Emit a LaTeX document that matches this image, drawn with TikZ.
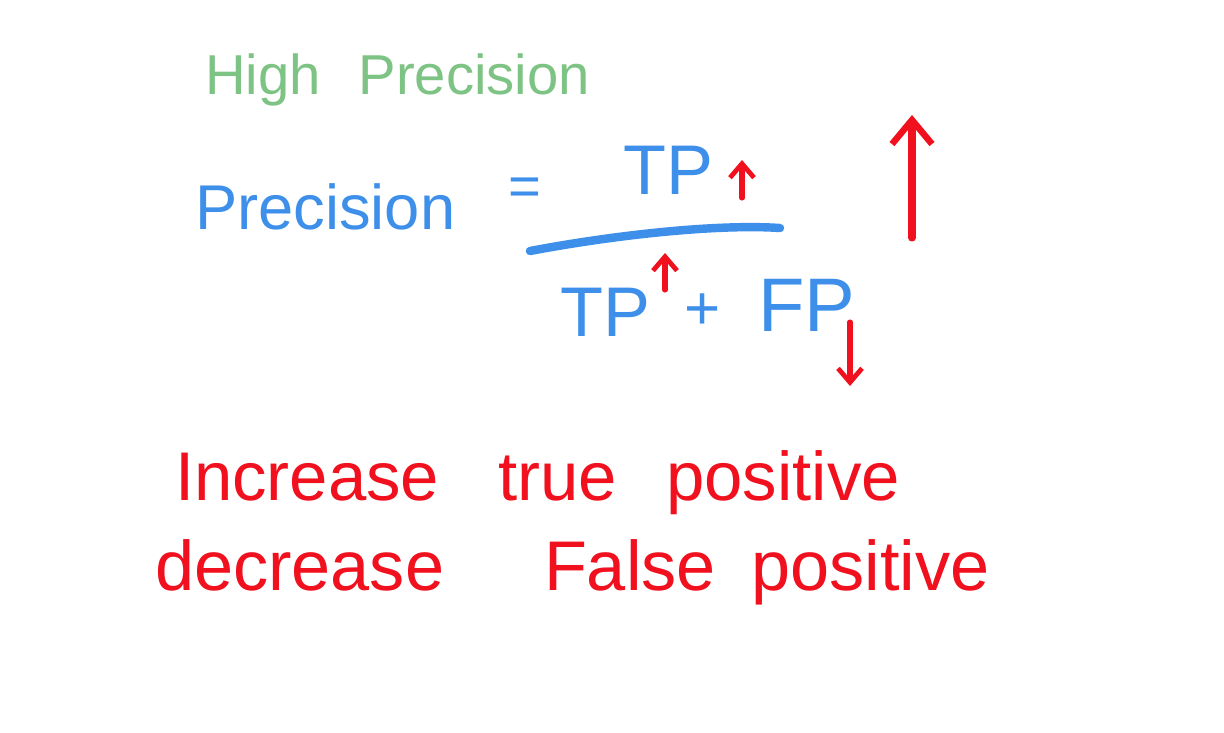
\documentclass[tikz,border=0pt]{standalone}
\usepackage{fontspec}
\setmainfont{Liberation Sans}
\usetikzlibrary{arrows.meta,positioning}
\definecolor{leaf}{HTML}{7DC383}
\definecolor{ink}{HTML}{3D8FEA}
\definecolor{pen}{HTML}{F0101E}

\tikzset{
  hand/.style={inner sep=0pt,outer sep=0pt},
  upmark/.style={pen,line width=3.6pt,line cap=round,-{Straight Barb[length=3.5mm,width=6mm,line width=3.4pt]}},
  bigmark/.style={pen,line width=5pt,line cap=round,-{Straight Barb[length=6mm,width=10mm,line width=4.6pt]}}
}

\begin{document}
\begin{tikzpicture}[x=0.025cm,y=-0.025cm]
\useasboundingbox (0,0) rectangle (1224,732);
\fill[white] (0,0) rectangle (1224,732);
% heading
\node[hand,text=leaf,anchor=west,font=\fontsize{40}{48}\selectfont] (title) at (205,80) {High\hspace{27pt}Precision};
% the formula
\node[hand,text=ink,anchor=west,font=\fontsize{45}{52}\selectfont] (lhs) at (195,207) {Precision};
\node[hand,text=ink,font=\fontsize{40}{48}\selectfont] (eq) at (525,192) {=};
\node[hand,text=ink,font=\fontsize{50}{60}\selectfont] (num) at (668,170) {TP};
\node[hand,text=ink,font=\fontsize{50}{60}\selectfont] (dtp) at (605,312) {TP};
\node[hand,text=ink,font=\fontsize{44}{52}\selectfont] (plus) at (703,312) {+};
\node[hand,text=ink,font=\fontsize{54}{60}\selectfont] (dfp) at (807,305) {FP};
\draw[ink,line width=6pt,line cap=round] (530,251) .. controls (620,234) and (720,224) .. (780,228);
% up and down marks
\coordinate (numlo) at (742,198);
\coordinate (numhi) at (742,160);
\coordinate (tplo) at (665,290);
\coordinate (tphi) at (665,253);
\coordinate (fphi) at (850,322);
\coordinate (fplo) at (850,386);
\coordinate (biglo) at (912,238);
\coordinate (bighi) at (912,115);
\draw[upmark] (numlo) -- (numhi);
\draw[upmark] (tplo) -- (tphi);
\draw[upmark] (fphi) -- (fplo);
\draw[bigmark] (biglo) -- (bighi);
% conclusions
\node[hand,text=pen,anchor=west,font=\fontsize{49}{60}\selectfont] (more) at (175,483) {Increase\hspace{42pt}true\hspace{35pt}positive};
\node[hand,text=pen,anchor=west,font=\fontsize{50}{60}\selectfont] (less) at (155,572) {decrease\hspace{71pt}False\hspace{25pt}positive};
\end{tikzpicture}
\end{document}
